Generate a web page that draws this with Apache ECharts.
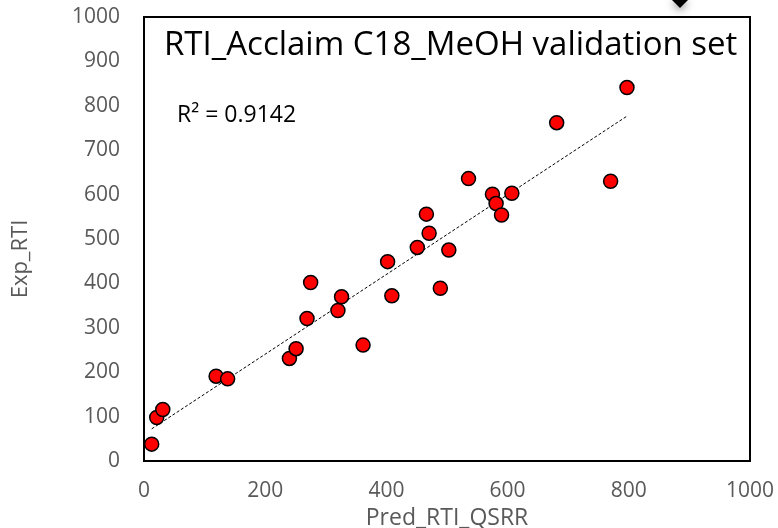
<!DOCTYPE html>
<html>
<head>
<meta charset="utf-8">
<script src="https://cdn.jsdelivr.net/npm/echarts@6/dist/echarts.min.js"></script>
<style>
html,body{margin:0;padding:0;background:#fff;}
#c{width:778px;height:528px;}
</style>
</head>
<body>
<div id="c"></div>
<script>
// Data
const predRTI = [12.7, 21, 31, 119, 138, 240, 251, 269, 275, 320, 326, 361.5, 402, 409, 451, 466, 470.5, 489, 503, 535.5, 575, 581, 590, 607, 681, 770, 797];
const expRTI  = [38, 98, 116, 191, 185, 231, 253, 321, 402, 339, 370, 261, 449, 372, 481, 556, 513, 389, 475, 636, 601, 580, 554, 603, 762, 630, 841];
const xTicks = [0, 200, 400, 600, 800, 1000];
const yTicks = [0, 100, 200, 300, 400, 500, 600, 700, 800, 900, 1000];
const titleText = 'RTI_Acclaim C18_MeOH validation set';
const r2Text = 'R² = 0.9142';
const xName = 'Pred_RTI_QSRR';
const yName = 'Exp_RTI';

const points = predRTI.map((x, i) => [x, expRTI[i]]);

// least squares trend line
const n = predRTI.length;
const mx = predRTI.reduce((a, b) => a + b, 0) / n;
const my = expRTI.reduce((a, b) => a + b, 0) / n;
let sxy = 0, sxx = 0;
for (let i = 0; i < n; i++) { sxy += (predRTI[i] - mx) * (expRTI[i] - my); sxx += (predRTI[i] - mx) ** 2; }
const slope = sxy / sxx, icpt = my - slope * mx;
const xMin = Math.min(...predRTI), xMax = Math.max(...predRTI);
const trend = [[xMin, icpt + slope * xMin], [xMax, icpt + slope * xMax]];

const FONT = '"Open Sans", sans-serif';
const chart = echarts.init(document.getElementById('c'), null, {renderer: 'canvas'});
chart.setOption({
  animation: false,
  backgroundColor: '#fff',
  grid: {left: 144, right: 28, top: 17, bottom: 67, containLabel: false, outerBoundsMode: 'none', show: true, borderColor: '#000', borderWidth: 2, backgroundColor: 'transparent'},
  xAxis: {
    type: 'value', min: xTicks[0], max: xTicks[xTicks.length - 1], interval: 200,
    name: xName, nameLocation: 'middle', nameGap: 40,
    nameTextStyle: {color: '#595959', fontSize: 23, fontFamily: FONT},
    axisLine: {show: false}, axisTick: {show: false}, splitLine: {show: false},
    axisLabel: {color: '#595959', fontSize: 21, fontFamily: FONT, margin: 20, formatter: v => String(v)}
  },
  yAxis: {
    type: 'value', min: yTicks[0], max: yTicks[yTicks.length - 1], interval: 100,
    name: yName, nameLocation: 'middle', nameGap: 112, nameRotate: 90,
    nameTextStyle: {color: '#595959', fontSize: 22, fontFamily: FONT, padding: [0, 40, 0, 0]},
    axisLine: {show: false}, axisTick: {show: false}, splitLine: {show: false},
    axisLabel: {color: '#595959', fontSize: 21, fontFamily: FONT, margin: 24, formatter: v => String(v)}
  },
  graphic: [
    {type: 'text', left: 164, top: 29, style: {text: titleText, fill: '#000', font: '33px ' + FONT}},
    {type: 'text', left: 177, top: 104, style: {text: r2Text, fill: '#000', font: '23px ' + FONT}},
    {type: 'polygon', shape: {points: [[672, 0], [688, 0], [680, 8]]}, style: {fill: '#000', shadowBlur: 8, shadowColor: 'rgba(0,0,0,0.6)', shadowOffsetY: 2}}
  ],
  series: [
    {type: 'line', data: trend, showSymbol: false, symbol: 'none', lineStyle: {color: '#000', width: 1, type: [3, 2]}, z: 2},
    {type: 'scatter', data: points, symbol: 'circle', symbolSize: 14, itemStyle: {color: '#FF0000', borderColor: '#000', borderWidth: 1.5, opacity: 1}, z: 3}
  ]
});
</script>
</body>
</html>
